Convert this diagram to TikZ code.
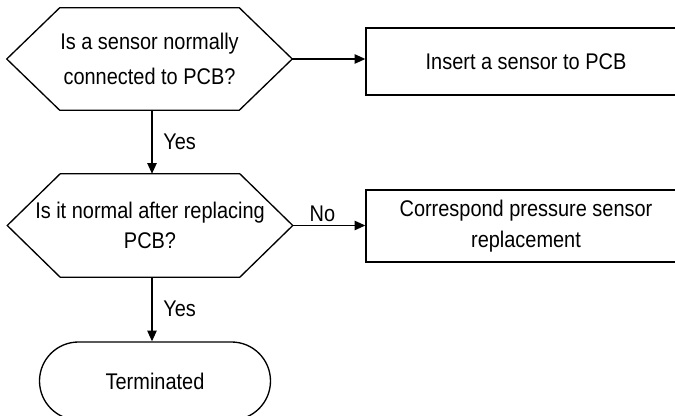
\documentclass[tikz,border=0pt]{standalone}
\usepackage{fontspec}
\setmainfont{Liberation Sans}[FakeStretch=0.88]
\usetikzlibrary{arrows.meta,shapes.misc,calc}
\begin{document}
\begin{tikzpicture}[x=0.75pt,y=-0.75pt,
  every node/.style={font=\fontsize{17}{23}\selectfont},
  hexbox/.style={inner sep=0pt,align=center,minimum width=213.75pt},
  procbox/.style={draw,line width=1pt,inner sep=0pt,align=center,minimum width=240pt},
  termbox/.style={draw,line width=1pt,rounded rectangle,inner sep=0pt,minimum width=173.25pt,minimum height=58.5pt},
  conn/.style={line width=1pt,-{Triangle[length=8pt,width=7pt]}},
  lbl/.style={inner sep=2pt}]
\useasboundingbox (0,0) rectangle (675,416);
\clip (0,0) rectangle (675,416);

\node[hexbox,minimum height=76.5pt,font=\fontsize{17}{26}\selectfont] (q1) at (149.5,59) {Is a sensor normally\\connected to PCB?};
\node[hexbox,minimum height=77.25pt] (q2) at (150,225.5) {Is it normal after replacing\\PCB?};
\foreach \h in {q1,q2}{
  \draw[line width=1pt,line join=miter] (\h.west) -- ($(\h.north west)+(53,0)$) -- ($(\h.north east)+(-53,0)$) -- (\h.east) -- ($(\h.south east)+(-53,0)$) -- ($(\h.south west)+(53,0)$) -- cycle;
}
\node[procbox,minimum height=50.25pt] (r1) at (526,61.5) {Insert a sensor to PCB};
\node[procbox,minimum height=54pt] (r2) at (526,226) {Correspond pressure sensor\\replacement};
\node[termbox] (t) at (155,381) {Terminated};

\draw[conn] (q1.east) -- (q1.east -| r1.west);
\draw[conn] (q2.east) -- node[lbl,above,xshift=-5pt] {No} (q2.east -| r2.west);
\draw[conn] (q1.south -| 152,0) -- node[lbl,right,xshift=6pt] {Yes} (q2.north -| 152,0);
\draw[conn] (q2.south -| 152,0) -- node[lbl,right,xshift=6pt] {Yes} (t.north -| 152,0);
\end{tikzpicture}
\end{document}
